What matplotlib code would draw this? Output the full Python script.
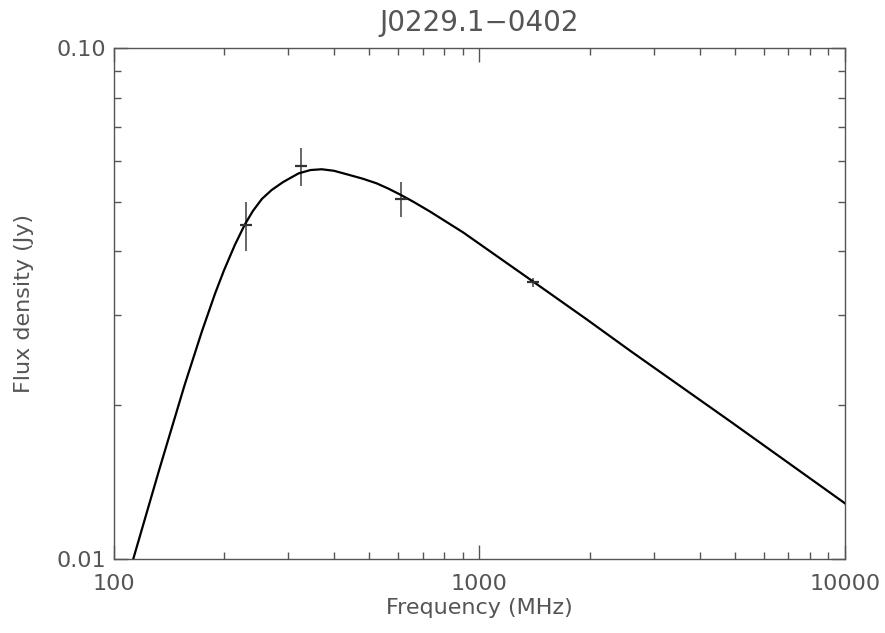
import matplotlib
matplotlib.use("Agg")
import matplotlib.pyplot as plt
from matplotlib.ticker import FixedLocator, FixedFormatter, LogLocator, NullFormatter

# measured flux densities
freq = [230, 325, 610, 1400]
flux = [0.0450, 0.0588, 0.0507, 0.0348]
flux_err = [0.0050, 0.0050, 0.0040, 0.0007]

# fitted spectrum
fit_freq = [112.9, 133, 156, 174, 189, 200, 214, 228, 240, 254, 270, 290, 320, 345,
            370, 400, 440, 480, 523, 563, 606, 659, 732, 903, 1404, 1965, 2581,
            4845, 10000]
fit_flux = [0.0100, 0.01496, 0.02189, 0.02789, 0.03306, 0.03673, 0.04113, 0.04514,
            0.0480, 0.05067, 0.05273, 0.05464, 0.05684, 0.0577, 0.0579, 0.0575,
            0.05644, 0.05547, 0.05434, 0.05307, 0.05168, 0.05002, 0.04786, 0.04354,
            0.03488, 0.02944, 0.02557, 0.01861, 0.01285]

xticks = [100, 1000, 10000]
xtick_labels = ["100", "1000", "10000"]
yticks = [0.01, 0.1]
ytick_labels = ["0.01", "0.10"]

txt = "#555555"
plt.rcParams["font.family"] = ["DejaVu Sans"]

fig = plt.figure(figsize=(8.85, 6.33), dpi=100)
ax = fig.add_axes([0.1288, 0.1169, 0.8260, 0.8073])

ax.plot(fit_freq, fit_flux, color="black", lw=1.6, zorder=3)
ax.errorbar(freq, flux, yerr=flux_err, fmt="none", ecolor="#666666", elinewidth=1.4, capsize=0, zorder=2)
ax.plot(freq, flux, ls="none", marker="_", markersize=9, mew=1.6, color="#333333", zorder=4)

ax.set_xscale("log")
ax.set_yscale("log")
ax.set_xlim(100, 10000)
ax.set_ylim(0.01, 0.1)

ax.xaxis.set_major_locator(FixedLocator(xticks))
ax.xaxis.set_major_formatter(FixedFormatter(xtick_labels))
ax.yaxis.set_major_locator(FixedLocator(yticks))
ax.yaxis.set_major_formatter(FixedFormatter(ytick_labels))
ax.xaxis.set_minor_locator(LogLocator(base=10, subs=range(2, 10)))
ax.yaxis.set_minor_locator(LogLocator(base=10, subs=range(2, 10)))
ax.xaxis.set_minor_formatter(NullFormatter())
ax.yaxis.set_minor_formatter(NullFormatter())

ax.tick_params(which="both", direction="in", top=True, right=True, color="#555555",
               width=1.0, labelsize=16, labelcolor=txt)
ax.tick_params(which="major", length=10)
ax.tick_params(which="minor", length=5)
ax.tick_params(axis="x", which="major", pad=11)
ax.tick_params(axis="y", which="major", pad=6)
for s in ax.spines.values():
    s.set_color("#555555")
    s.set_linewidth(1.0)

ax.set_title("J0229.1\u22120402", fontsize=20, color=txt, pad=12)
ax.set_xlabel("Frequency (MHz)", fontsize=16, color=txt, labelpad=3)
ax.set_ylabel("Flux density (Jy)", fontsize=16, color=txt, labelpad=16)

fig.savefig("out.png", dpi=100)
